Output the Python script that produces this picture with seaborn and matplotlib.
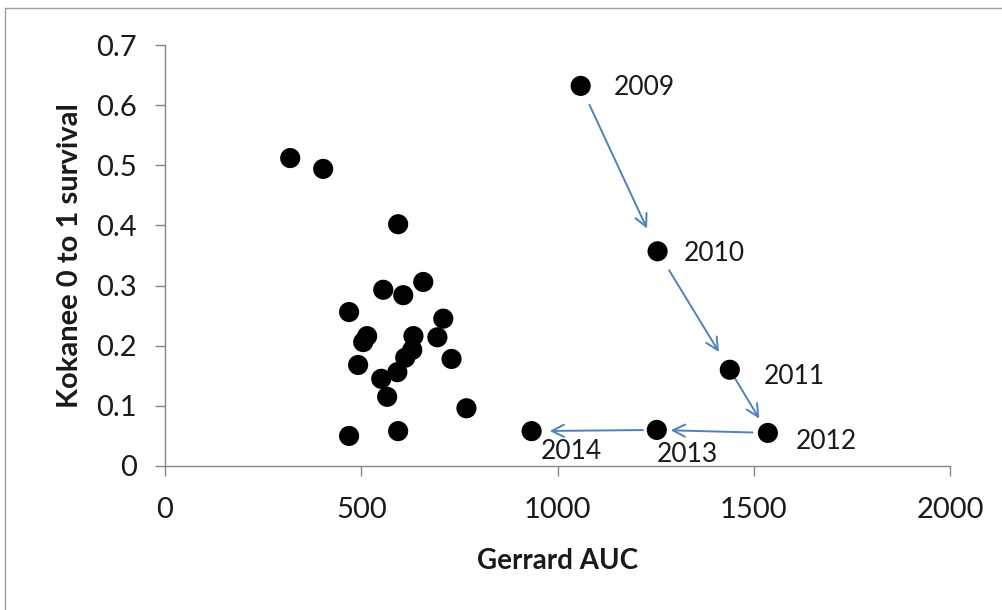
import matplotlib
matplotlib.use("Agg")
import matplotlib.pyplot as plt
import seaborn as sns
import pandas as pd
from matplotlib.lines import Line2D

# ---- data ----
cluster_auc = [319, 403, 594, 556, 607, 658, 469, 709, 515, 505, 633, 694,
               630, 612, 592, 551, 492, 730, 566, 768, 469, 594]
cluster_surv = [0.512, 0.494, 0.402, 0.293, 0.284, 0.306, 0.256, 0.245, 0.216,
                0.206, 0.216, 0.214, 0.193, 0.180, 0.156, 0.145, 0.168, 0.178,
                0.115, 0.096, 0.050, 0.058]
years = ["2009", "2010", "2011", "2012", "2013", "2014"]
year_auc = [1059, 1255, 1439, 1536, 1253, 934]
year_surv = [0.632, 0.357, 0.160, 0.055, 0.060, 0.058]
x_ticks = [0, 500, 1000, 1500, 2000]
y_ticks = [0, 0.1, 0.2, 0.3, 0.4, 0.5, 0.6, 0.7]
y_tick_labels = ["0", "0.1", "0.2", "0.3", "0.4", "0.5", "0.6", "0.7"]

df = pd.DataFrame({"auc": cluster_auc + year_auc,
                   "surv": cluster_surv + year_surv})

sns.set_theme(style="white")
plt.rcParams["font.family"] = ["Lato", "DejaVu Sans"]

fig = plt.figure(figsize=(10.03, 6.10), dpi=100)
ax = fig.add_axes([165 / 1003, 1 - 466 / 610, (950 - 165) / 1003, (466 - 45) / 610])

sns.scatterplot(data=df, x="auc", y="surv", ax=ax, color="black", s=210,
                edgecolor="none", zorder=3)

ax.set_xlim(0, 2000)
ax.set_ylim(0, 0.7)
ax.set_xticks(x_ticks)
ax.set_xticklabels([str(t) for t in x_ticks])
ax.set_yticks(y_ticks)
ax.set_yticklabels(y_tick_labels)
ax.tick_params(axis="both", labelsize=21, colors="#868686", labelcolor="#1a1a1a",
               length=7, width=1, direction="out", left=True, bottom=True)
ax.tick_params(axis="x", pad=15)
ax.tick_params(axis="y", pad=13)

for s in ["top", "right"]:
    ax.spines[s].set_visible(False)
for s in ["left", "bottom"]:
    ax.spines[s].set_color("#868686")
    ax.spines[s].set_linewidth(1)

ax.set_xlabel("Gerrard AUC", fontsize=20, fontweight="bold", labelpad=18,
              color="#1a1a1a")
ax.set_ylabel("Kokanee 0 to 1 survival", fontsize=21, fontweight="bold",
              labelpad=10, color="#1a1a1a")

# year labels (offsets in pixels)
offsets = [(33, -2), (26, -2), (34, -7), (28, -9), (0, -25), (9, -20)]
for yr, xa, ya, off in zip(years, year_auc, year_surv, offsets):
    ax.annotate(yr, (xa, ya), xytext=off, textcoords="offset pixels",
                ha="left", va="center", fontsize=19, color="#1a1a1a")

# arrows between consecutive years
shrinks = [(15, 18), (16, 15), (1, 12), (11, 10), (10, 13)]
arrow_color = "#4f81bd"
for i in range(len(years) - 1):
    sa, sb = shrinks[i]
    ax.annotate("", xy=(year_auc[i + 1], year_surv[i + 1]),
                xytext=(year_auc[i], year_surv[i]),
                arrowprops=dict(arrowstyle="->", color=arrow_color, lw=1.4,
                                shrinkA=sa, shrinkB=sb, mutation_scale=22),
                zorder=2)

# outer frame of the original figure
fig.add_artist(Line2D([5 / 1003, 5 / 1003], [0, 1 - 8 / 610],
                      transform=fig.transFigure, color="#a0a0a0", lw=1))
fig.add_artist(Line2D([5 / 1003, 1], [1 - 8 / 610, 1 - 8 / 610],
                      transform=fig.transFigure, color="#a0a0a0", lw=1))

fig.savefig("out.png", dpi=100)
